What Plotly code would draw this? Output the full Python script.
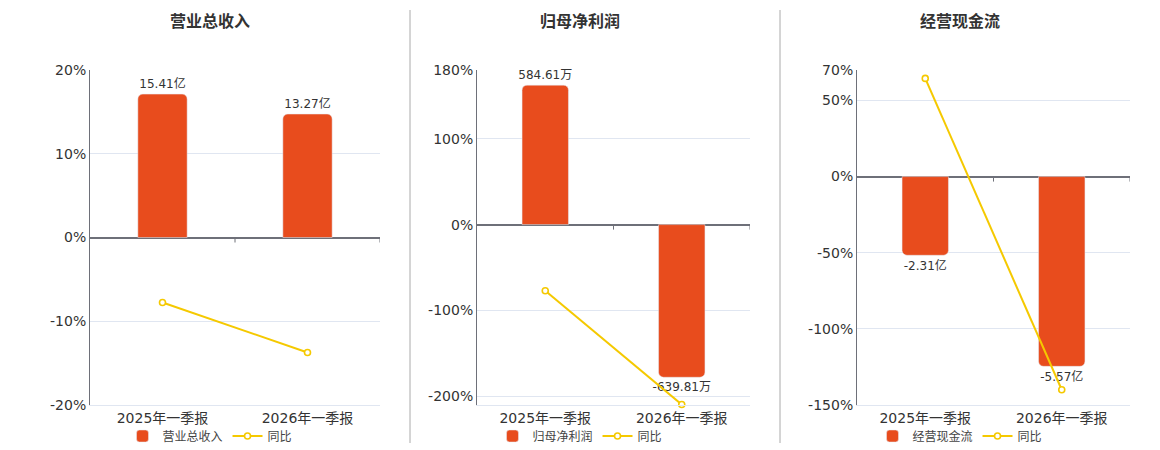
import plotly.graph_objects as go

# ---------------- data ----------------
periods = ["2025年一季报", "2026年一季报"]

titles = ["营业总收入", "归母净利润", "经营现金流"]

# bar values (own units) and their labels
revenue = [15.41, 13.27]            # 亿
revenue_text = ["15.41亿", "13.27亿"]
profit = [584.61, -639.81]          # 万
profit_text = ["584.61万", "-639.81万"]
cashflow = [-2.31, -5.57]           # 亿
cashflow_text = ["-2.31亿", "-5.57亿"]

# year-on-year change, %
revenue_yoy = [-7.76, -13.73]
profit_yoy = [-77.0, -209.5]
cashflow_yoy = [64.5, -140.0]

# percent axis ticks
ticks1 = [-20, -10, 0, 10, 20]
ticks2 = [-200, -100, 0, 100, 180]
ticks3 = [-150, -100, -50, 0, 50, 70]

BAR_COLOR = "#E84C1D"
LINE_COLOR = "#F5C900"
AXIS_COLOR = "#6E7079"
GRID_COLOR = "#E0E6F1"
TEXT_COLOR = "#333333"
FONT = "DejaVu Sans, Noto Sans CJK SC, sans-serif"

W, H = 1160, 450

panels = [
    dict(bars=revenue, text=revenue_text, yoy=revenue_yoy, ticks=ticks1,
         pct_range=[-20, 20], bar_scale=0.9, x=(90, 380), center=210, width=0.34),
    dict(bars=profit, text=profit_text, yoy=profit_yoy, ticks=ticks2,
         pct_range=[-210, 180], bar_scale=3.6, x=(477, 750), center=580, width=0.34),
    dict(bars=cashflow, text=cashflow_text, yoy=cashflow_yoy, ticks=ticks3,
         pct_range=[-150, 70], bar_scale=0.0447, x=(857, 1130), center=960, width=0.34),
]

fig = go.Figure()
layout = dict(
    width=W, height=H,
    margin=dict(l=0, r=0, t=0, b=0, autoexpand=False),
    paper_bgcolor="white", plot_bgcolor="white",
    font=dict(family=FONT, color=TEXT_COLOR, size=13),
    showlegend=True,
    annotations=[], shapes=[],
)

y_dom = [1 - 405 / H, 1 - 70 / H]

for i, p in enumerate(panels):
    n = i + 1
    xa = "x" if n == 1 else f"x{n}"
    yb = f"y{2 * n - 1}" if n > 1 else "y"
    yp = f"y{2 * n}"
    leg = "legend" if n == 1 else f"legend{n}"

    fig.add_trace(go.Bar(
        x=periods, y=p["bars"], text=p["text"], textposition="outside",
        constraintext="none",
        textfont=dict(size=12, color=TEXT_COLOR), cliponaxis=False,
        marker=dict(color=BAR_COLOR, cornerradius=5), width=p["width"],
        name=titles[i], xaxis=xa, yaxis=yb, legend=leg,
    ))
    fig.add_trace(go.Scatter(
        x=periods, y=p["yoy"], mode="lines+markers", cliponaxis=False,
        line=dict(color=LINE_COLOR, width=2),
        marker=dict(symbol="circle", size=6, color="white",
                    line=dict(color=LINE_COLOR, width=1.6)),
        name="同比", xaxis=xa, yaxis=yp, legend=leg,
    ))

    xkey = "xaxis" if n == 1 else f"xaxis{n}"
    ybkey = "yaxis" if n == 1 else f"yaxis{2 * n - 1}"
    ypkey = f"yaxis{2 * n}"

    layout[xkey] = dict(
        domain=[p["x"][0] / W, p["x"][1] / W], anchor=yb,
        range=[-0.5, 1.5], showgrid=False, zeroline=False,
        showline=True, linecolor=GRID_COLOR, linewidth=1,
        ticks="", tickfont=dict(size=14, color=TEXT_COLOR),
        fixedrange=True,
    )
    bar_range = [v * p["bar_scale"] for v in p["pct_range"]]
    layout[ybkey] = dict(
        domain=y_dom, anchor=xa, range=bar_range,
        visible=False, showgrid=False, zeroline=False, fixedrange=True,
    )
    layout[ypkey] = dict(
        domain=y_dom, anchor=xa, overlaying=yb, side="left",
        range=p["pct_range"], tickvals=p["ticks"],
        ticktext=[f"{t}%" for t in p["ticks"]],
        tickfont=dict(size=14, color=TEXT_COLOR),
        showgrid=True, gridcolor=GRID_COLOR, gridwidth=1,
        zeroline=True, zerolinecolor=AXIS_COLOR, zerolinewidth=2,
        showline=True, linecolor=AXIS_COLOR, linewidth=1,
        ticks="", ticklen=0, fixedrange=True,
    )
    layout[leg] = dict(
        orientation="h", x=p["center"] / W, xanchor="center",
        y=1 - 436 / H, yanchor="middle",
        font=dict(size=12, color="#444"), bgcolor="rgba(0,0,0,0)",
        itemwidth=30, tracegroupgap=0,
    )
    layout["annotations"].append(dict(
        text=f"<b>{titles[i]}</b>", x=p["center"] / W, y=1 - 22 / H,
        xref="paper", yref="paper", showarrow=False,
        font=dict(size=16, color=TEXT_COLOR), xanchor="center", yanchor="middle",
    ))
    # small ticks hanging below the zero line at category boundaries
    for xb in [0.5, 1.5]:
        layout["shapes"].append(dict(
            type="line", xref=xa, yref=yp, x0=xb, x1=xb,
            ysizemode="pixel", yanchor=0, y0=0, y1=-5,
            line=dict(color=AXIS_COLOR, width=1),
        ))

# vertical separators between panels
for xs in [410, 780]:
    layout["shapes"].append(dict(
        type="line", xref="paper", yref="paper",
        x0=xs / W, x1=xs / W, y0=1 - 443 / H, y1=1 - 10 / H,
        line=dict(color="#AAAAAA", width=1),
    ))

fig.update_layout(**layout)
# drop the browser's default 8px body margin so the figure sits at the page corner
fig.write_html("out.html", config={"displayModeBar": False},
               post_script="document.body.style.margin='0';")
